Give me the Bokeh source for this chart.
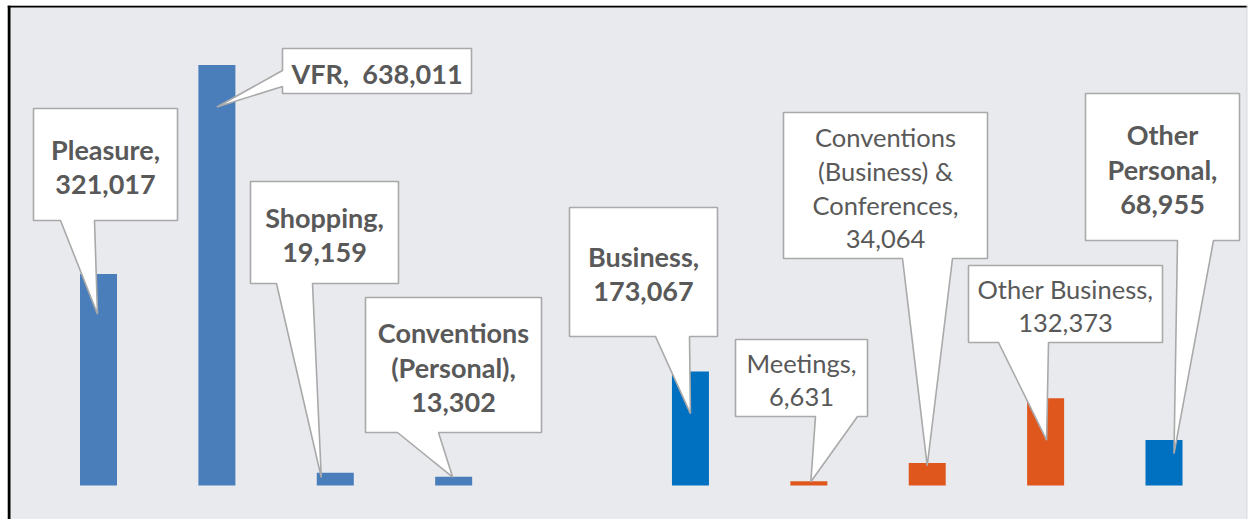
from bokeh.plotting import figure
from bokeh.models import Range1d, ColumnDataSource, Span
from bokeh.embed import file_html
from bokeh.resources import INLINE
from bokeh.core.properties import value

# ---------------- data ----------------
categories = ["Pleasure", "VFR", "Shopping", "Conventions (Personal)",
              "Business", "Meetings", "Conventions (Business) & Conferences",
              "Other Business", "Other Personal"]
visitors = [321017, 638011, 19159, 13302, 173067, 6631, 34064, 132373, 68955]
label_names = [["Pleasure,"], ["VFR,"], ["Shopping,"], ["Conventions", "(Personal),"],
               ["Business,"], ["Meetings,"], ["Conventions", "(Business) &", "Conferences,"],
               ["Other Business,"], ["Other", "Personal,"]]
label_bold = [True, True, True, True, True, False, False, False, True]
bar_colors = ["#4a7ebb", "#4a7ebb", "#4a7ebb", "#4a7ebb", "#0070c0",
              "#e0571e", "#e0571e", "#e0571e", "#0070c0"]

# ---------------- layout (page pixels) ----------------
W, H = 1251, 519
FL, FT, FR = 7, 5, 1247        # frame left / top / right (px)
X0, SLOT = 98.0, 118.39        # centre of first slot, slot spacing (px)
BASE, K = 485.0, 1517.0        # baseline (px), value units per px
GAP_AFTER = 4                  # empty slot before "Business"

def px2x(px):
    return (px - X0) / SLOT

def px2y(py):
    return (BASE - py) * K

# callout boxes: left, top, right, bottom, side, base1, base2, tip dx(px), tip fraction of bar
callouts = [
    (33, 108, 177, 220, "b", 60, 94, -1, 0.81),
    (282, 48, 471, 93, "l", 70, 86, 0, 0.90),
    (250, 181, 398, 283, "b", 276, 312, -14, 0.63),
    (365, 297, 541, 432, "b", 397, 438, -1, 0.95),
    (569, 207, 717, 336, "b", 655, 689, 0, 0.63),
    (735, 339, 867, 416, "b", 815, 857, 2, 0.85),
    (783, 112, 987, 258, "b", 902, 952, 0, 0.88),
    (968, 265, 1162, 342, "b", 998, 1048, 1, 0.52),
    (1085, 93, 1239, 240, "b", 1177, 1213, 10, 0.70),
]

slots = [i + (1 if i >= GAP_AFTER else 0) for i in range(len(categories))]

p = figure(width=W, height=H, output_backend="svg", toolbar_location=None,
           x_range=Range1d(px2x(FL), px2x(FR)),
           y_range=Range1d(px2y(H), px2y(FT)),
           min_border_left=FL, min_border_top=FT, min_border_right=W - FR,
           min_border_bottom=0, outline_line_color=None,
           background_fill_color="#e8eaee", border_fill_color="white")
p.axis.visible = False
p.grid.visible = False

bars = ColumnDataSource(dict(x=slots, top=visitors, color=bar_colors, cat=categories))
p.vbar(x="x", top="top", bottom=0, width=37 / SLOT, fill_color="color",
       line_color=None, source=bars)

# callouts
xs, ys = [], []
tx_rows, ty_rows, txt_rows, off_rows, style_rows, size_rows = [], [], [], [], [], []
for i, (L, T, R, B, side, b1, b2, dx, frac) in enumerate(callouts):
    tipx = slots[i] + dx / SLOT
    tipy = visitors[i] * frac
    if side == "b":
        pts = [(px2x(L), px2y(T)), (px2x(R), px2y(T)), (px2x(R), px2y(B)),
               (px2x(b2), px2y(B)), (tipx, tipy), (px2x(b1), px2y(B)),
               (px2x(L), px2y(B))]
    else:
        pts = [(px2x(L), px2y(T)), (px2x(R), px2y(T)), (px2x(R), px2y(B)),
               (px2x(L), px2y(B)), (px2x(L), px2y(b2)), (tipx, tipy),
               (px2x(L), px2y(b1))]
    xs.append([a for a, _ in pts])
    ys.append([b for _, b in pts])
    names = label_names[i]
    num = f"{visitors[i]:,}"
    if categories[i] == "VFR":
        lines = [names[0] + "\u00a0\u00a0" + num]
    else:
        lines = names + [num]
    n = len(lines)
    bold = label_bold[i]
    ls = 35 if bold else 34
    cx, cy = px2x((L + R) / 2), px2y((T + B) / 2 + 2)
    for j, ln in enumerate(lines):
        tx_rows.append(cx)
        ty_rows.append(cy)
        txt_rows.append(ln)
        off_rows.append((j - (n - 1) / 2) * ls)
        style_rows.append("bold" if bold else "normal")
        size_rows.append("27px" if bold else "25.5px")

p.patches(xs, ys, fill_color="white", line_color="#a9a9a9", line_width=1.6)

labels = ColumnDataSource(dict(x=tx_rows, y=ty_rows, text=txt_rows, off=off_rows,
                               style=style_rows, size=size_rows))
p.text(x="x", y="y", text="text", y_offset="off", source=labels,
       text_font=value("Lato"), text_font_size="size", text_font_style="style",
       text_color="#595959", text_align="center", text_baseline="middle")

# chart-area border
p.add_layout(Span(location=px2x(FL + 1.5), dimension="height", line_color="black", line_width=3))
p.add_layout(Span(location=px2y(FT + 1), dimension="width", line_color="black", line_width=2))
p.add_layout(Span(location=px2x(FR - 0.5), dimension="height", line_color="#d4d6da", line_width=1))

open("out.html", "w").write(file_html(p, INLINE))
